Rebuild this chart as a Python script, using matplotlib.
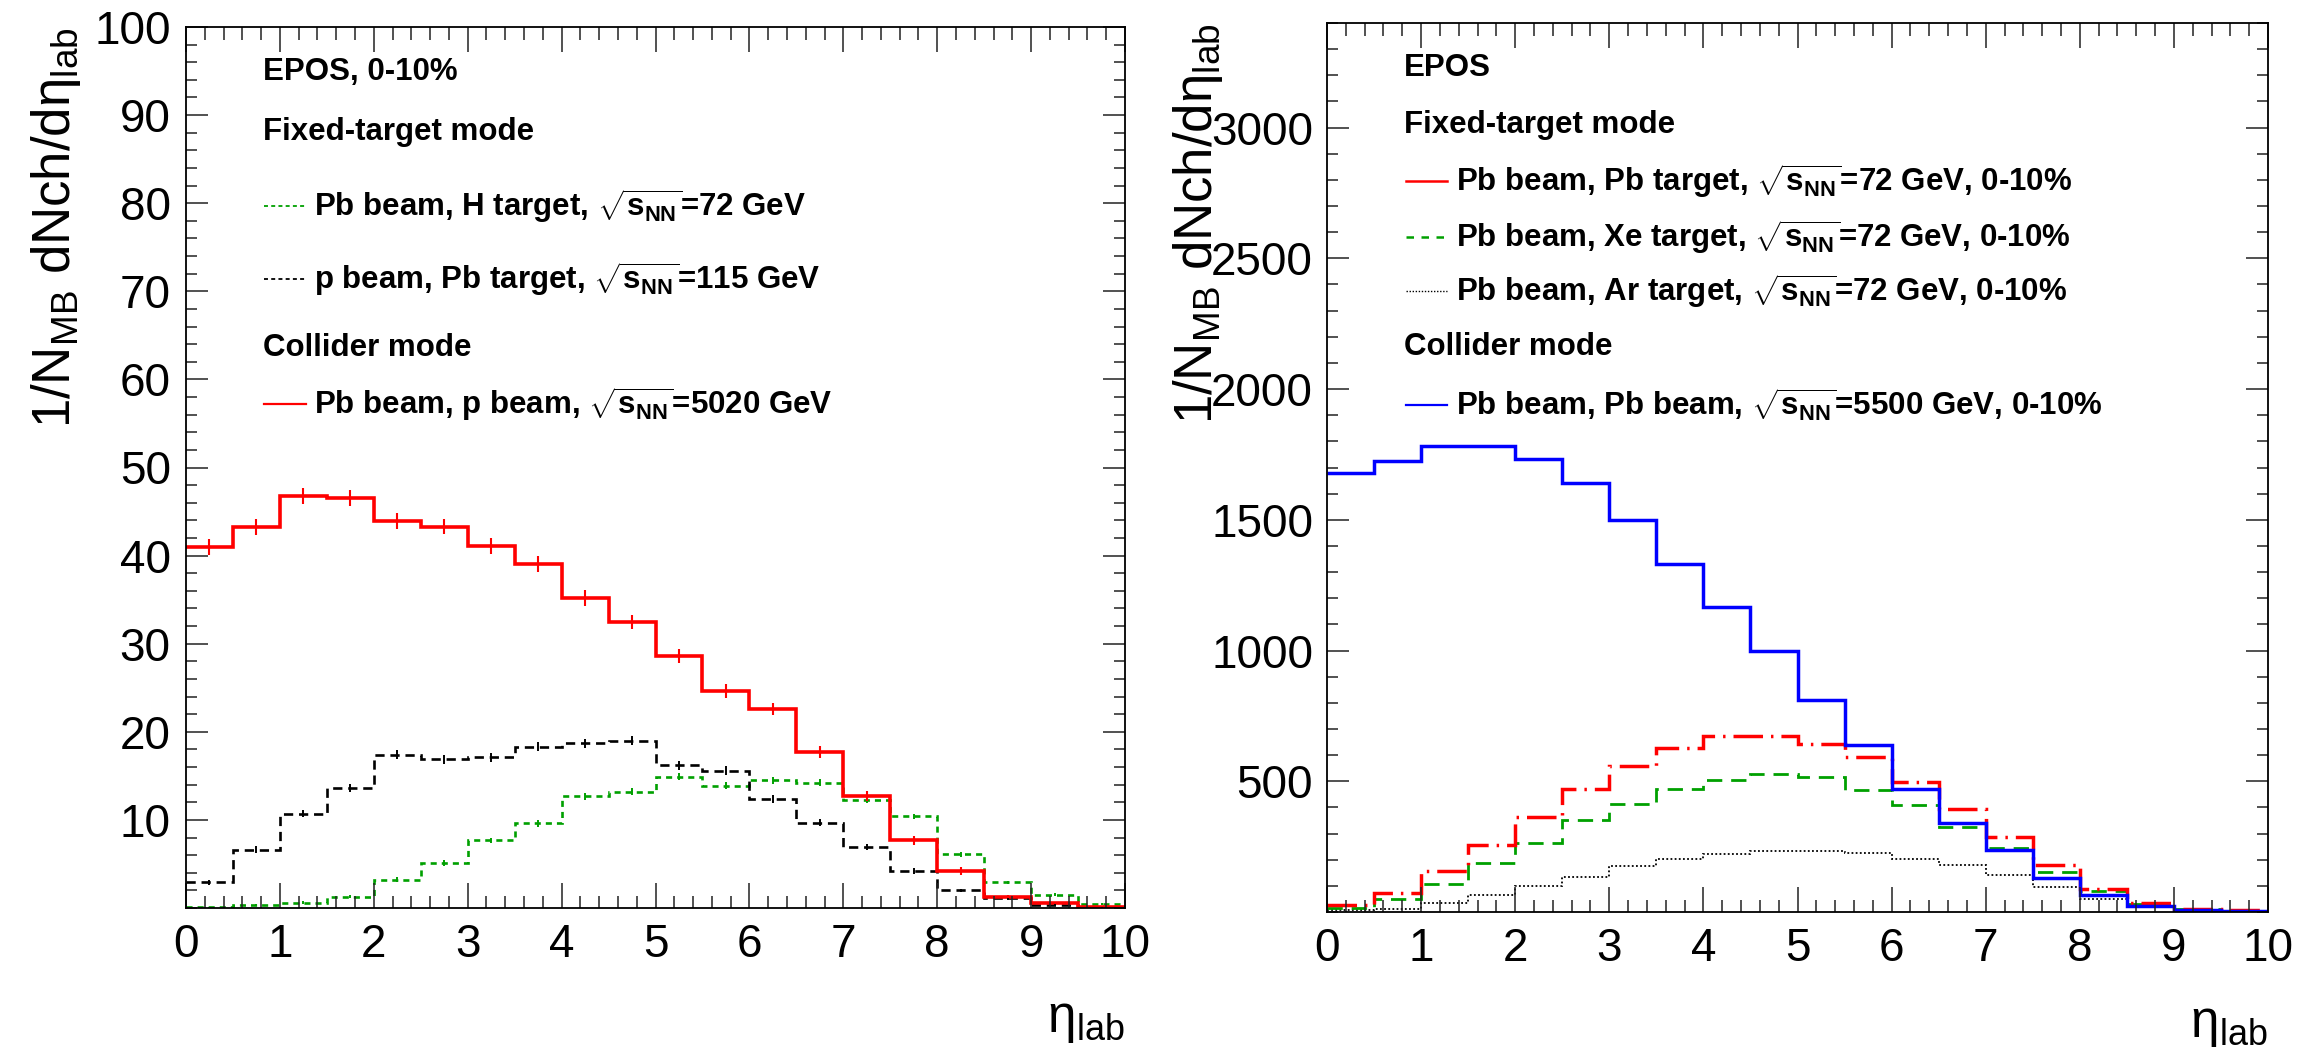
import matplotlib
matplotlib.use("Agg")
import matplotlib.pyplot as plt
import numpy as np
from matplotlib.ticker import MultipleLocator, FixedLocator, FuncFormatter

plt.rcParams["font.family"] = ["Liberation Sans", "DejaVu Sans"]
plt.rcParams["mathtext.fontset"] = "custom"
plt.rcParams["mathtext.rm"] = "Liberation Sans"
plt.rcParams["mathtext.it"] = "Liberation Sans:italic"
plt.rcParams["mathtext.bf"] = "Liberation Sans:bold"

# ---------------- data ----------------
eta_edges = [0.0, 0.5, 1.0, 1.5, 2.0, 2.5, 3.0, 3.5, 4.0, 4.5, 5.0,
             5.5, 6.0, 6.5, 7.0, 7.5, 8.0, 8.5, 9.0, 9.5, 10.0]

# left panel (EPOS, 0-10%)
pbH_72 = [0.1, 0.3, 0.6, 1.3, 3.2, 5.1, 7.7, 9.6, 12.7, 13.2,
          14.9, 13.9, 14.5, 14.2, 12.3, 10.4, 6.1, 2.9, 1.5, 0.45]
pPb_115 = [2.9, 6.6, 10.7, 13.6, 17.4, 16.9, 17.1, 18.3, 18.7, 19.0,
           16.2, 15.6, 12.4, 9.7, 6.9, 4.2, 2.0, 1.1, 0.3, 0.1]
pbp_5020 = [41.0, 43.2, 46.8, 46.5, 43.9, 43.3, 41.1, 39.0, 35.2, 32.5,
            28.6, 24.6, 22.6, 17.7, 12.7, 7.7, 4.2, 1.3, 0.6, 0.15]
err_pbH = [0.05, 0.1, 0.15, 0.2, 0.3, 0.3, 0.3, 0.35, 0.4, 0.4,
           0.4, 0.4, 0.4, 0.4, 0.35, 0.3, 0.3, 0.2, 0.15, 0.1]
err_pPb = [0.3, 0.4, 0.4, 0.45, 0.5, 0.5, 0.5, 0.5, 0.5, 0.5,
           0.5, 0.5, 0.45, 0.4, 0.35, 0.3, 0.2, 0.15, 0.1, 0.05]
err_pbp = [0.9, 0.9, 0.9, 0.9, 0.9, 0.9, 0.9, 0.9, 0.9, 0.8,
           0.8, 0.8, 0.7, 0.7, 0.6, 0.5, 0.4, 0.2, 0.1, 0.05]

# right panel (EPOS, 0-10%)
pbPb_72 = [25, 72, 156, 256, 364, 472, 557, 628, 672, 672,
           644, 593, 497, 394, 286, 179, 87, 36, 13, 8]
pbXe_72 = [17, 51, 108, 186, 262, 350, 413, 472, 506, 527,
           515, 468, 408, 325, 243, 153, 79, 31, 13, 5]
pbAr_72 = [6, 13, 33, 64, 99, 135, 176, 201, 220, 233,
           233, 226, 204, 181, 143, 95, 51, 20, 8, 3]
pbPb_5500 = [1680, 1724, 1783, 1783, 1731, 1639, 1499, 1330, 1166, 997,
             811, 639, 471, 340, 238, 130, 64, 23, 8, 2]

left_yticks = [10, 20, 30, 40, 50, 60, 70, 80, 90, 100]
right_yticks = [500, 1000, 1500, 2000, 2500, 3000]
xticks = [0, 1, 2, 3, 4, 5, 6, 7, 8, 9, 10]

# ---------------- styles ----------------
RED = "#ff0000"
GREEN = "#00a000"
BLUE = "#0000ff"
BLACK = "#000000"

W, H = 2312, 1047
fig = plt.figure(figsize=(W / 100, H / 100), dpi=100)
axL = fig.add_axes([186 / W, 1 - 908 / H, 939 / W, 881 / H])
axR = fig.add_axes([1327 / W, 1 - 912 / H, 941 / W, 889 / H])

edges = np.array(eta_edges)
centers = 0.5 * (edges[:-1] + edges[1:])


def style_axes(ax, ylim, yticks, yminor, ypad):
    ax.set_xlim(0, 10)
    ax.set_ylim(*ylim)
    ax.xaxis.set_major_locator(FixedLocator(xticks))
    ax.xaxis.set_minor_locator(MultipleLocator(0.2))
    ax.yaxis.set_major_locator(FixedLocator(yticks))
    ax.yaxis.set_minor_locator(MultipleLocator(yminor))
    ax.xaxis.set_major_formatter(FuncFormatter(lambda v, p: f"{v:g}"))
    ax.yaxis.set_major_formatter(FuncFormatter(lambda v, p: f"{v:g}"))
    for s in ax.spines.values():
        s.set_linewidth(1.3)
    ax.tick_params(which="both", direction="in", top=True, right=True,
                   width=1.1, color="#222222")
    ax.tick_params(which="major", axis="x", length=18)
    ax.tick_params(which="minor", axis="x", length=9)
    ax.tick_params(which="major", axis="y", length=16)
    ax.tick_params(which="minor", axis="y", length=8)
    ax.tick_params(axis="x", labelsize=33, pad=11)
    ax.tick_params(axis="y", labelsize=33, pad=ypad)


# ---------------- left panel ----------------
axL.stairs(pbH_72, edges, baseline=None, color=GREEN, lw=1.9,
           linestyle=(0, (2.3, 1.9)))
axL.errorbar(centers, pbH_72, yerr=err_pbH, fmt="none", ecolor=GREEN, elinewidth=1.4)
axL.stairs(pPb_115, edges, baseline=None, color=BLACK, lw=1.9,
           linestyle=(0, (3.5, 2.2)))
axL.errorbar(centers, pPb_115, yerr=err_pPb, fmt="none", ecolor=BLACK, elinewidth=1.4)
axL.stairs(pbp_5020, edges, baseline=None, color=RED, lw=2.6)
axL.errorbar(centers, pbp_5020, yerr=err_pbp, fmt="none", ecolor=RED, elinewidth=1.5)

style_axes(axL, (0, 100), left_yticks, 2, 11)

# ---------------- right panel ----------------
axR.stairs(pbAr_72, edges, baseline=None, color=BLACK, lw=1.3,
           linestyle=(0, (1.0, 1.3)))
axR.stairs(pbXe_72, edges, baseline=None, color=GREEN, lw=2.0,
           linestyle=(0, (5.5, 3.2)))
axR.stairs(pbPb_72, edges, baseline=None, color=RED, lw=2.5,
           linestyle=(0, (8.5, 2.3, 0.7, 2.3)))
axR.stairs(pbPb_5500, edges, baseline=None, color=BLUE, lw=2.5)

style_axes(axR, (0, 3400), right_yticks, 100, 10)

# ---------------- axis titles ----------------
ylab = "1/N$_{\\mathrm{MB}}$ dNch/dη$_{\\mathrm{lab}}$"
xlab = "η$_{\\mathrm{lab}}$"
for ax, yx in ((axL, -0.138), (axR, -0.137)):
    ax.text(yx, 1.0, ylab, rotation=90, ha="center", va="top",
            transform=ax.transAxes, fontsize=38)
    ax.text(1.0, -0.10, xlab, ha="right", va="top",
            transform=ax.transAxes, fontsize=37)

# ---------------- legends ----------------
SQ = "$\\sqrt{\\mathbf{s}_{\\mathbf{NN}}}$"
FS = 22.5


def header(ax, x, y, s):
    ax.text(x, y, s, transform=ax.transAxes, fontsize=FS, fontweight="bold",
            ha="left", va="center")


def entry(ax, x0, x1, xt, y, s, **line_kw):
    ax.plot([x0, x1], [y, y], transform=ax.transAxes, clip_on=False, **line_kw)
    ax.text(xt, y, s, transform=ax.transAxes, fontsize=FS, fontweight="bold",
            ha="left", va="center")


hx, sx0, sx1, tx = 0.0825, 0.083, 0.128, 0.136
rows = [0.949, 0.881, 0.797, 0.714, 0.636, 0.572]
header(axL, hx, rows[0], "EPOS, 0-10%")
header(axL, hx, rows[1], "Fixed-target mode")
entry(axL, sx0, sx1, tx, rows[2], "Pb beam, H target, " + SQ + "=72 GeV",
      color=GREEN, lw=1.3, linestyle=(0, (2.2, 1.8)))
entry(axL, sx0, sx1, tx, rows[3], "p beam, Pb target, " + SQ + "=115 GeV",
      color=BLACK, lw=1.3, linestyle=(0, (2.2, 1.8)))
header(axL, hx, rows[4], "Collider mode")
entry(axL, sx0, sx1, tx, rows[5], "Pb beam, p beam, " + SQ + "=5020 GeV",
      color=RED, lw=1.6)

hx, sx0, sx1, tx = 0.082, 0.084, 0.128, 0.137
rows = [0.949, 0.885, 0.822, 0.759, 0.698, 0.635, 0.570]
header(axR, hx, rows[0], "EPOS")
header(axR, hx, rows[1], "Fixed-target mode")
entry(axR, sx0, sx1, tx, rows[2], "Pb beam, Pb target, " + SQ + "=72 GeV, 0-10%",
      color=RED, lw=1.8)
entry(axR, sx0, sx1, tx, rows[3], "Pb beam, Xe target, " + SQ + "=72 GeV, 0-10%",
      color=GREEN, lw=1.8, linestyle=(0, (3, 3)))
entry(axR, sx0, sx1, tx, rows[4], "Pb beam, Ar target, " + SQ + "=72 GeV, 0-10%",
      color=BLACK, lw=1.0, linestyle=(0, (1, 1.2)))
header(axR, hx, rows[5], "Collider mode")
entry(axR, sx0, sx1, tx, rows[6], "Pb beam, Pb beam, " + SQ + "=5500 GeV, 0-10%",
      color=BLUE, lw=1.6)

fig.savefig("out.png", dpi=100)
